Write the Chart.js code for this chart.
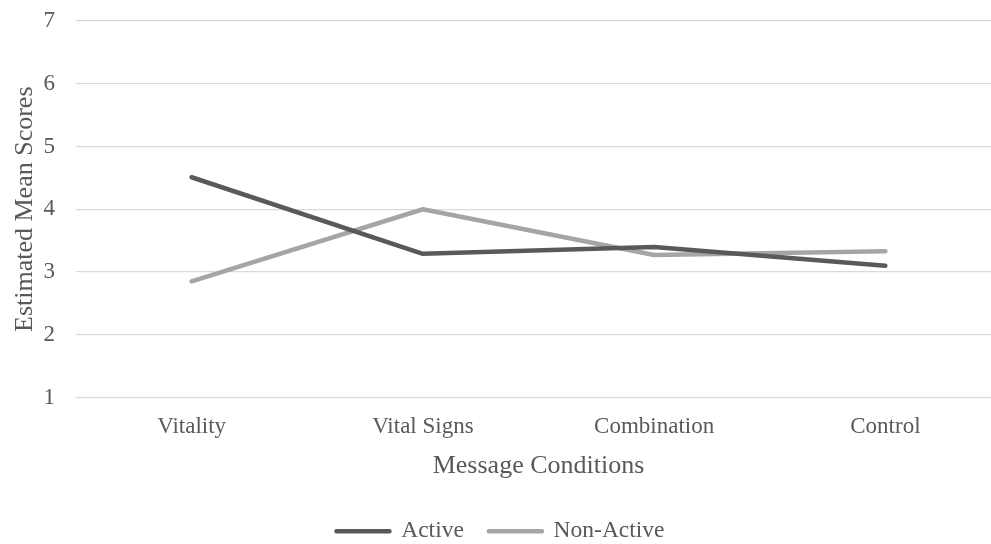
<!DOCTYPE html>
<html lang="en">
<head>
    <meta charset="UTF-8">
    <title>Estimated Mean Scores</title>
    <script src="https://cdn.jsdelivr.net/npm/chart.js"></script>
    <style>
        body {
            margin: 0;
            overflow: hidden;
            background: #fff;
        }

        /* a bit larger than the window; the page crops the extra */
        .chart-container {
            width: 1002px;
            height: 555px;
        }
    </style>
</head>
<body>
    <div class="chart-container">
        <canvas id="lineChart"></canvas>
    </div>

    <script>
        const conditions = ['Vitality', 'Vital Signs', 'Combination', 'Control'];
        const activeScores = [4.51, 3.29, 3.40, 3.10];
        const nonActiveScores = [2.85, 4.00, 3.27, 3.33];
        const yTicks = [1, 2, 3, 4, 5, 6, 7];

        const textColor = '#595959';
        const serif = "'Liberation Serif', 'Times New Roman', serif";

        const ctx = document.getElementById('lineChart').getContext('2d');
        new Chart(ctx, {
            type: 'line',
            data: {
                labels: conditions,
                datasets: [{
                    label: 'Active',
                    data: activeScores,
                    borderColor: '#595959',
                    backgroundColor: '#595959',
                    borderWidth: 4.5,
                    borderCapStyle: 'round',
                    borderJoinStyle: 'round',
                    pointRadius: 0,
                    tension: 0
                }, {
                    label: 'Non-Active',
                    data: nonActiveScores,
                    borderColor: '#A5A5A5',
                    backgroundColor: '#A5A5A5',
                    borderWidth: 4.5,
                    borderCapStyle: 'round',
                    borderJoinStyle: 'round',
                    pointRadius: 0,
                    tension: 0
                }]
            },
            options: {
                responsive: true,
                maintainAspectRatio: false,
                animation: false,
                layout: {
                    padding: { top: 21, right: 1, left: 0, bottom: 2 }
                },
                plugins: {
                    tooltip: { enabled: false },
                    legend: {
                        position: 'bottom',
                        labels: {
                            color: textColor,
                            font: { family: serif, size: 23.5 },
                            boxWidth: 53,
                            boxHeight: 0,
                            padding: 25
                        }
                    }
                },
                scales: {
                    x: {
                        offset: true,
                        grid: { display: false },
                        border: { display: false },
                        ticks: {
                            color: textColor,
                            font: { family: serif, size: 23 },
                            padding: 8
                        },
                        title: {
                            display: true,
                            text: 'Message Conditions',
                            color: textColor,
                            font: { family: serif, size: 26 },
                            padding: { top: 2, bottom: 13 }
                        },
                        afterFit: scale => { scale.height = 97; }
                    },
                    y: {
                        min: yTicks[0],
                        max: yTicks[yTicks.length - 1],
                        afterBuildTicks: scale => {
                            scale.ticks = yTicks.map(v => ({ value: v }));
                        },
                        grid: {
                            color: '#D9D9D9',
                            lineWidth: 1.3,
                            drawTicks: false
                        },
                        border: { display: false },
                        ticks: {
                            color: textColor,
                            font: { family: serif, size: 23 },
                            padding: 21
                        },
                        title: {
                            display: true,
                            text: 'Estimated Mean Scores',
                            color: textColor,
                            font: { family: serif, size: 26 },
                            padding: { top: 10, bottom: 0 }
                        },
                        afterFit: scale => {
                            scale.width = 76;
                            scale.paddingTop = 0;
                            scale.paddingBottom = 0;
                        }
                    }
                }
            }
        });
    </script>
</body>
</html>
